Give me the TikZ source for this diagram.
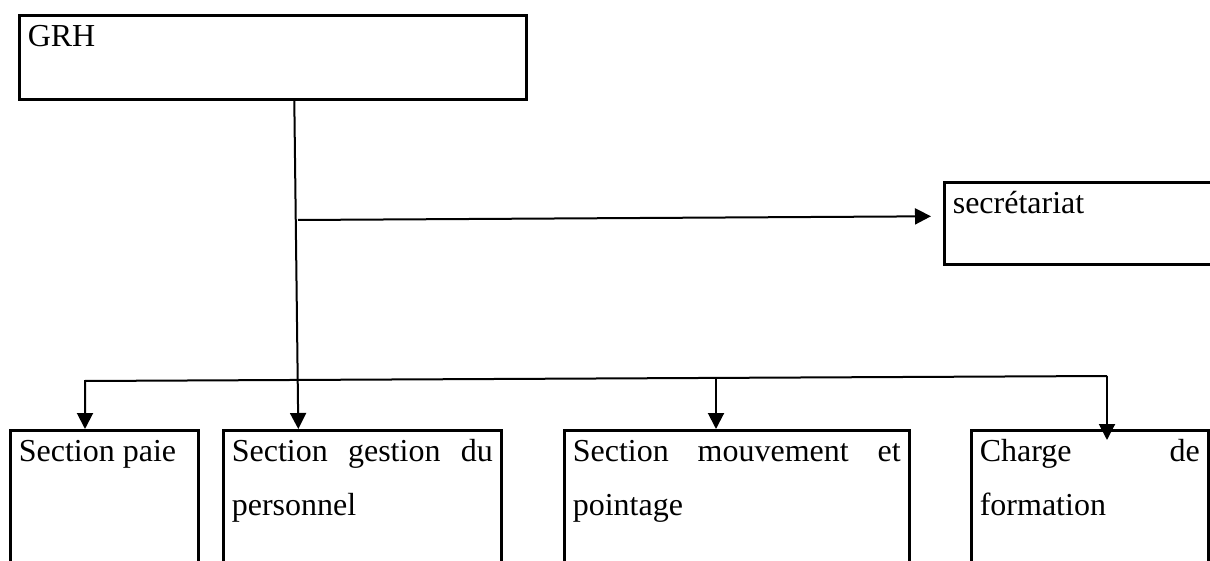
\documentclass[tikz,border=0pt]{standalone}
\usepackage{fontspec}
\setmainfont{Liberation Serif}
\usetikzlibrary{arrows.meta,positioning}
\begin{document}
\begin{tikzpicture}[x=0.5pt,y=-0.5pt,
unit/.style={draw,line width=1.3pt,anchor=north west,inner xsep=4.25pt,inner ysep=0pt,text height=15.5pt,align=justify,font=\fontsize{16pt}{27pt}\selectfont},
arr/.style={line width=1pt,-{Triangle[length=8pt,width=8pt]}}]%pixel coords
\useasboundingbox (0,0) rectangle (1210,561);
\clip (0,0) rectangle (1210,561);
\begin{scope}
\node[unit,text width=245pt,text depth=26.5pt] (grh) at (18,14) {GRH};
\node[unit,text width=191.5pt,text depth=25.5pt] (secr) at (943,181) {secrétariat};
\node[unit,text width=85.5pt,text depth=120pt] (paie) at (9,429) {Section paie};
\node[unit,text width=130.5pt,text depth=120pt] (gest) at (222,429) {Section\hfill gestion\hfill du\\personnel};
\node[unit,text width=164pt,text depth=120pt] (mouv) at (563,429) {Section\hfill mouvement\hfill et\\pointage};
\node[unit,text width=110pt,text depth=120pt] (charge) at (970,429) {Charge\hfill de\\formation};
\end{scope}
\begin{scope}
\coordinate (j1) at (298,220);
\coordinate (bl) at (85,381);
\coordinate (bm) at (716,378);
\coordinate (br) at (1107,376);
\draw[arr] ([xshift=10.75pt]grh.south) -- ([xshift=-32pt]gest.north);
\draw[arr] (j1) -- ([xshift=-6pt,yshift=3.5pt]secr.west);
\draw[arr] (br) -- (bl) -- (bl |- paie.north);
\draw[arr] (bm) -- (bm |- mouv.north);
\draw[arr] (br) -- ([yshift=-5.5pt]br |- charge.north);
%\draw (bl) -- (br);
\end{scope}
\end{tikzpicture}
\end{document}
